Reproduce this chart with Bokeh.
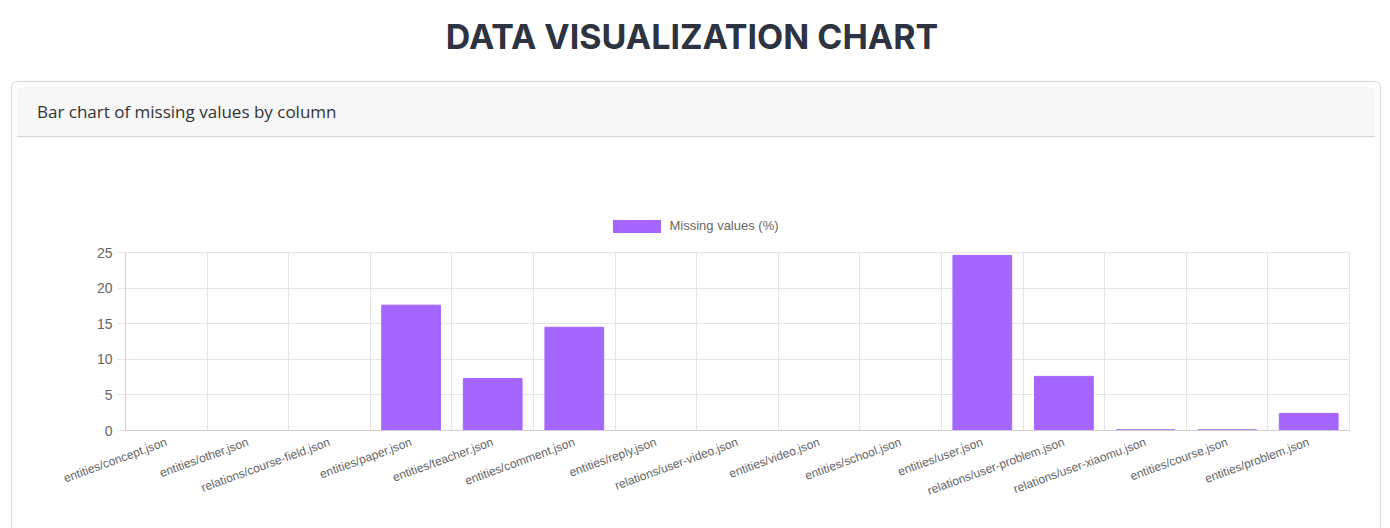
from bokeh.plotting import figure
from bokeh.models import Div, FixedTicker, Grid, Range1d
from bokeh.layouts import column
from bokeh.embed import file_html
from bokeh.resources import INLINE

files = ["entities/concept.json", "entities/other.json", "relations/course-field.json",
         "entities/paper.json", "entities/teacher.json", "entities/comment.json",
         "entities/reply.json", "relations/user-video.json", "entities/video.json",
         "entities/school.json", "entities/user.json", "relations/user-problem.json",
         "relations/user-xiaomu.json", "entities/course.json", "entities/problem.json"]
missing = [0, 0, 0, 17.6, 7.3, 14.5, 0, 0, 0, 0, 24.6, 7.6, 0.1, 0.1, 2.4]
series_name = "Missing values (%)"

centers = [i + 0.5 for i in range(len(files))]
bar_color = "#a566ff"

title = Div(text="DATA VISUALIZATION CHART", width=1374, height=71,
            styles={"font-family": "Inter", "font-size": "34px", "font-weight": "bold",
                    "color": "#2d3340", "text-align": "center", "width": "1374px",
                    "padding-top": "8px"})

header = Div(text="Bar chart of missing values by column", width=1358, height=50,
             styles={"font-family": "Open Sans", "font-size": "17px", "color": "#333",
                     "background": "#f7f7f7", "border-bottom": "1px solid #d6d6d6",
                     "padding": "13px 20px", "box-sizing": "border-box", "width": "1358px",
                     "border-radius": "6px 6px 0 0"})

legend = Div(text=f'<span style="display:inline-block;width:48px;height:13px;background:{bar_color};'
                  f'vertical-align:middle;margin-right:8px"></span>'
                  f'<span style="vertical-align:middle">{series_name}</span>',
             width=1358, height=92,
             styles={"font-family": "Liberation Sans", "font-size": "13px", "color": "#666",
                     "text-align": "center", "width": "1358px", "padding-top": "70px",
                     "box-sizing": "border-box"})

p = figure(width=1358, height=296, output_backend="svg", toolbar_location=None,
           x_range=Range1d(0, len(files)), y_range=Range1d(0, 25),
           min_border_left=113, min_border_right=21, min_border_top=8, min_border_bottom=110)
p.outline_line_color = "#e5e5e5"
r = p.vbar(x=centers, top=missing, width=0.72, fill_color=bar_color, line_color=bar_color)

p.xaxis.ticker = FixedTicker(ticks=centers)
p.xaxis.major_label_overrides = {c: f for c, f in zip(centers, files)}
p.xaxis.major_label_orientation = 0.35
p.xaxis.minor_tick_line_color = None
p.yaxis.ticker = FixedTicker(ticks=[0, 5, 10, 15, 20, 25])
p.yaxis.minor_tick_line_color = None
p.yaxis.major_tick_in = 0
p.yaxis.major_tick_out = 8
p.axis.major_tick_line_color = "#e5e5e5"
p.axis.axis_line_color = "#d0d0d0"
p.axis.major_label_text_font = "Liberation Sans"
p.axis.major_label_text_color = "#666666"
p.xaxis.major_label_text_font_size = "12px"
p.yaxis.major_label_text_font_size = "14px"
p.xaxis.major_tick_line_color = None

p.xgrid.visible = False
p.add_layout(Grid(dimension=0, ticker=FixedTicker(ticks=list(range(len(files) + 1))),
                  grid_line_color="#e5e5e5"))
p.ygrid.grid_line_color = "#e5e5e5"

card = column(header, legend, p, margin=(0, 0, 0, 11),
              styles={"border": "1px solid #d6d6d6", "border-radius": "6px",
                      "background": "white"})
layout = column(title, card)

open("out.html", "w").write(file_html(layout, INLINE))
